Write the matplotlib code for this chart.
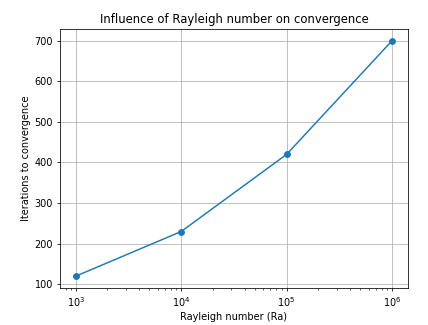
import matplotlib
matplotlib.use('Agg')
import matplotlib.pyplot as plt

rayleigh = [1e3, 1e4, 1e5, 1e6]
iterations = [120, 230, 420, 700]

fig, ax = plt.subplots(figsize=(428 / 70, 325 / 70), dpi=70)
fig.subplots_adjust(left=0.140, right=0.953, bottom=0.114, top=0.911)
ax.plot(rayleigh, iterations, marker='o', color='#1f77b4')
ax.set_xscale('log')
ax.set_xlabel('Rayleigh number (Ra)')
ax.set_ylabel('Iterations to convergence')
ax.set_title('Influence of Rayleigh number on convergence')
ax.grid(True)
fig.savefig('out.png', dpi=70)
